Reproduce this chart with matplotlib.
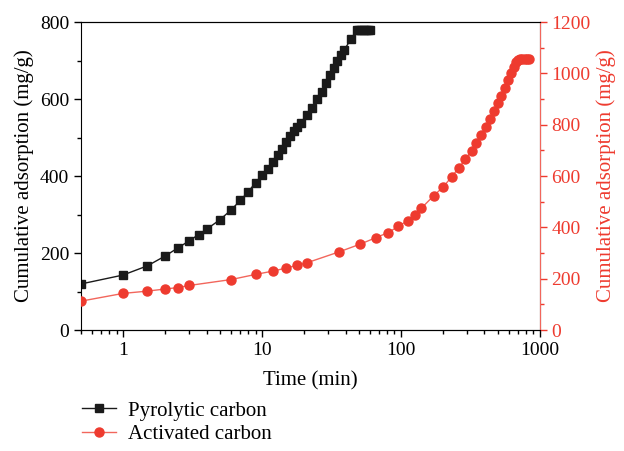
import numpy as np
import matplotlib.pyplot as plt
from matplotlib.ticker import AutoMinorLocator, LogLocator, NullFormatter

plt.rcParams['font.family'] = ['Liberation Serif', 'DejaVu Serif']
plt.rcParams['font.size'] = 14

# Pyrolytic carbon (left axis)
t_pyro = [0.5, 1, 1.5, 2, 2.5, 3, 3.5, 4, 5, 6, 7, 8, 9, 10, 11, 12, 13, 14, 15,
          16, 17, 18, 19, 21, 23, 25, 27, 29, 31, 33, 35, 37, 39, 44,
          48, 50, 52, 54, 56, 58, 60]
q_pyro = [120, 143, 167, 192, 214, 232, 248, 262, 287, 312, 337, 360, 383, 402,
          419, 436, 454, 471, 488, 503, 517, 528, 538, 559, 578, 599, 619, 642,
          663, 681, 698, 714, 727, 757, 780, 780, 780, 780, 780, 780, 780]

# Activated carbon (right axis)
t_act = [0.5, 1, 1.5, 2, 2.5, 3, 6, 9, 12, 15, 18, 21, 36, 51, 66, 81, 96, 112,
         126, 140, 172, 202, 232, 261, 292, 323, 350, 380, 408, 439, 469, 499,
         530, 560, 592, 622, 650, 680, 700, 720, 750, 780, 810, 840]
q_act = [113, 143, 152, 160, 166, 174, 197, 217, 230, 242, 253, 262, 305, 335,
         360, 380, 404, 427, 449, 474, 523, 558, 597, 632, 666, 699, 730, 761,
         792, 822, 852, 883, 913, 943, 973, 1000, 1026, 1045, 1054, 1055, 1055,
         1055, 1055, 1055]

red = '#ee3b2f'

fig = plt.figure(figsize=(6.24, 4.51), dpi=100)
ax = fig.add_axes([0.13, 0.268, 0.735, 0.683])
ax2 = ax.twinx()

l1, = ax.plot(t_pyro, q_pyro, '-s', color='#1a1a1a', lw=1, ms=5.5,
              label='Pyrolytic carbon')
l2, = ax2.plot(t_act, q_act, '-o', color='#f2665c', mfc=red, mec=red, lw=1,
               ms=6.5, label='Activated carbon')

ax.set_xscale('log')
ax.set_xlim(0.5, 1000)
ax.set_ylim(0, 800)
ax2.set_ylim(0, 1200)
ax.set_xticks([1, 10, 100, 1000])
ax.set_xticklabels(['1', '10', '100', '1000'])
ax.xaxis.set_minor_locator(LogLocator(base=10, subs=np.arange(2, 10)))
ax.xaxis.set_minor_formatter(NullFormatter())
ax.set_yticks([0, 200, 400, 600, 800])
ax.yaxis.set_minor_locator(AutoMinorLocator(2))
ax2.set_yticks([0, 200, 400, 600, 800, 1000, 1200])
ax2.yaxis.set_minor_locator(AutoMinorLocator(2))

ax.tick_params(which='major', direction='out', length=5, width=1)
ax.tick_params(which='minor', direction='out', length=3, width=1)
ax2.tick_params(which='major', direction='out', length=5, width=1,
                colors=red)
ax2.tick_params(which='minor', direction='out', length=3, width=1, colors=red)
ax2.spines['right'].set_color('#f2665c')
ax2.spines['left'].set_visible(False)

ax.set_xlabel('Time (min)', fontsize=15, labelpad=9)
ax.set_ylabel('Cumulative adsorption (mg/g)', fontsize=15)
ax2.set_ylabel('Cumulative adsorption (mg/g)', color=red, fontsize=15)

fig.legend(handles=[l1, l2], loc='upper left', bbox_to_anchor=(0.125, 0.12),
           frameon=False, handlelength=1.6, handletextpad=0.6,
           labelspacing=0.2, borderaxespad=0, borderpad=0.2, fontsize=15)

fig.savefig('out.png', dpi=100)
